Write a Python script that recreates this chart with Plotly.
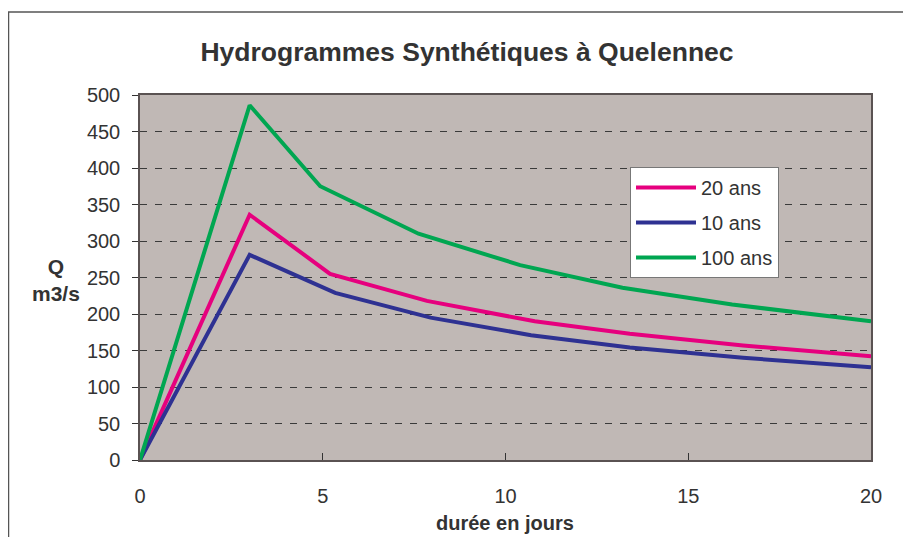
import plotly.graph_objects as go

# Data
x_20 = [0, 3, 5.2, 7.85, 10.8, 13.4, 16.5, 20]
q_20 = [0, 336, 255, 218, 190, 173, 157, 142]
x_10 = [0, 3, 5.34, 7.95, 10.7, 13.4, 16.5, 20]
q_10 = [0, 281, 229, 195, 171, 154, 140, 127]
x_100 = [0, 3, 4.93, 7.62, 10.4, 13.2, 16.2, 20]
q_100 = [0, 486, 375, 310, 267, 236, 213, 190]
names = ["20 ans", "10 ans", "100 ans"]
colors = ["#E6007E", "#2E3192", "#00A651"]

FONT = "Liberation Sans, Arial, sans-serif"
TXT = "#333333"

fig = go.Figure()
for i, (xs, ys, n, c) in enumerate(zip([x_20, x_10, x_100], [q_20, q_10, q_100], names, colors)):
    fig.add_trace(go.Scatter(x=xs, y=ys, mode="lines", name=n, legendgroup=f"g{i}",
                             line=dict(color=c, width=4)))

OFF = 8  # page body margin
W, H = 911 - OFF, 537 - OFF
L, T = 140 - OFF, 95 - OFF
R = W - (871 - OFF)
B = H - (460 - OFF)
pw, ph = W - L - R, H - T - B

def px_x(p):
    return (p - OFF - L) / pw

def px_y(p):
    return (H - B - (p - OFF)) / ph

fig.update_layout(
    width=W, height=H,
    margin=dict(l=L, r=R, t=T, b=B),
    paper_bgcolor="white",
    plot_bgcolor="#C0B8B5",
    font=dict(family=FONT, color=TXT, size=20),
    title=dict(text="<b>Hydrogrammes Synthétiques à Quelennec</b>",
               x=px_x(467), xanchor="center", xref="paper",
               y=1 - (52 - OFF) / H, yanchor="middle",
               font=dict(size=26.5, color=TXT, family=FONT)),
    showlegend=True,
    legend=dict(x=px_x(630), y=px_y(167), xanchor="left", yanchor="top",
                bgcolor="white", bordercolor="#777777", borderwidth=1,
                font=dict(size=20, color=TXT, family=FONT),
                itemwidth=60, tracegroupgap=6, traceorder="grouped"),
    xaxis=dict(range=[0, 20], tickvals=[0, 5, 10, 15, 20],
               showgrid=False, zeroline=False,
               showline=True, linecolor="#5a5252", linewidth=1.5, mirror=True,
               ticks="inside", ticklen=7, tickcolor="#333333",
               tickfont=dict(size=20, color=TXT), ticklabelstandoff=17),
    yaxis=dict(range=[0, 500], tickvals=list(range(0, 501, 50)),
               showgrid=True, gridcolor="#3a3a3a", gridwidth=1, griddash="7px,8px",
               zeroline=False,
               showline=True, linecolor="#5a5252", linewidth=1.5, mirror=True,
               ticks="outside", ticklen=6, tickcolor="#333333",
               tickfont=dict(size=20, color=TXT), ticklabelstandoff=8),
)

fig.add_annotation(text="<b>Q<br>m3/s</b>", xref="paper", yref="paper",
                   x=px_x(56), y=px_y(280), showarrow=False,
                   xanchor="center", yanchor="middle",
                   font=dict(size=21, color=TXT, family=FONT), align="center")
fig.add_annotation(text="<b>durée en jours</b>", xref="paper", yref="paper",
                   x=px_x(505), y=px_y(523), showarrow=False,
                   xanchor="center", yanchor="middle",
                   font=dict(size=20, color=TXT, family=FONT))

# outer chart border
fig.add_shape(type="rect", xref="paper", yref="paper",
              x0=px_x(8.5), x1=px_x(930), y0=px_y(560), y1=px_y(12),
              line=dict(color="#555555", width=1.5), fillcolor="rgba(0,0,0,0)",
              layer="below")

fig.write_html("out.html")
